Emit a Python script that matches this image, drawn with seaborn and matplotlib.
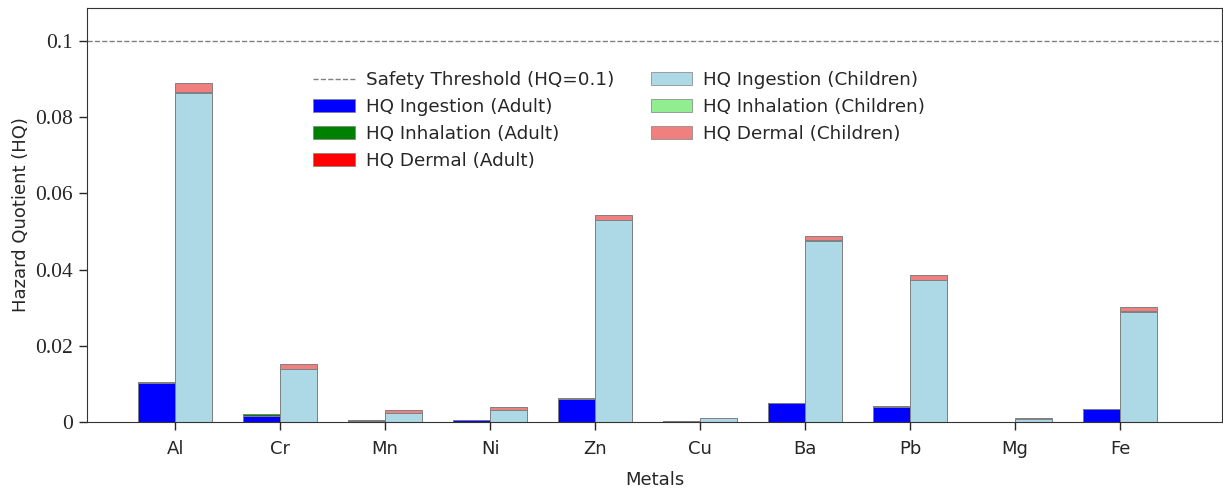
import numpy as np
import pandas as pd
import matplotlib
matplotlib.use("Agg")
import matplotlib.pyplot as plt
from matplotlib.patches import Patch
from matplotlib.lines import Line2D
from matplotlib.ticker import FuncFormatter
import seaborn as sns

metals = ["Al", "Cr", "Mn", "Ni", "Zn", "Cu", "Ba", "Pb", "Mg", "Fe"]
ing_adult = [0.0102, 0.0016, 0.0003, 0.0004, 0.0060, 0.0002, 0.0049, 0.0040, 0.0001, 0.0033]
inh_adult = [0.0001, 0.0005, 0.0001, 0.0001, 0.0001, 0.0000, 0.0001, 0.0001, 0.0000, 0.0001]
der_adult = [0.0001, 0.0001, 0.0000, 0.0000, 0.0001, 0.0000, 0.0001, 0.0001, 0.0000, 0.0001]
ing_child = [0.0864, 0.0138, 0.0023, 0.0031, 0.0530, 0.0010, 0.0476, 0.0373, 0.0009, 0.0290]
inh_child = [0.0001, 0.0001, 0.0000, 0.0000, 0.0001, 0.0000, 0.0001, 0.0001, 0.0000, 0.0001]
der_child = [0.0026, 0.0013, 0.0008, 0.0009, 0.0013, 0.0001, 0.0012, 0.0012, 0.0001, 0.0012]
threshold = 0.1

sns.set_style("ticks")
plt.rcParams["font.family"] = ["DejaVu Sans"]

fig = plt.figure(figsize=(12.23, 4.93), dpi=100)
ax = fig.add_axes([0.0711, 0.144, 0.928, 0.840])

groups = ["Adult", "Children"]
ia, ha, da = np.array(ing_adult), np.array(inh_adult), np.array(der_adult)
ic, hc, dc = np.array(ing_child), np.array(inh_child), np.array(der_child)

layers = [
    (ia + ha + da, ic + hc + dc, ["red", "lightcoral"]),
    (ia + ha, ic + hc, ["green", "lightgreen"]),
    (ia, ic, ["blue", "lightblue"]),
]
for adult_tot, child_tot, pal in layers:
    df = pd.DataFrame({
        "Metal": metals * 2,
        "Group": ["Adult"] * len(metals) + ["Children"] * len(metals),
        "HQ": np.concatenate([adult_tot, child_tot]),
    })
    sns.barplot(data=df, x="Metal", y="HQ", hue="Group", hue_order=groups,
                order=metals, palette=pal, width=0.7, dodge=True,
                saturation=1, errorbar=None, edgecolor="gray", linewidth=0.7,
                legend=False, ax=ax)

ax.axhline(threshold, color="gray", linestyle="--", linewidth=1.0)

ax.set_xlim(-0.84, 9.97)
ax.set_ylim(0, 0.1087)
ax.set_yticks([0, 0.02, 0.04, 0.06, 0.08, 0.1])
ax.yaxis.set_major_formatter(FuncFormatter(lambda v, p: "%g" % round(v, 4)))
for lbl in ax.get_yticklabels():
    lbl.set_fontfamily("Liberation Serif")
    lbl.set_fontsize(15.5)
ax.tick_params(axis="x", labelsize=13, length=6, width=1, pad=7)
ax.tick_params(axis="y", length=6, width=1, pad=4)
ax.set_xlabel("Metals", fontsize=13, labelpad=9)
ax.set_ylabel("Hazard Quotient (HQ)", fontsize=13, labelpad=4)
for s in ax.spines.values():
    s.set_visible(True)
    s.set_color("#333333")

handles = [
    Line2D([0], [0], color="gray", linestyle="--", linewidth=1.0),
    Patch(facecolor="blue", edgecolor="gray", linewidth=0.5),
    Patch(facecolor="green", edgecolor="gray", linewidth=0.5),
    Patch(facecolor="red", edgecolor="gray", linewidth=0.5),
    Patch(facecolor="lightblue", edgecolor="gray", linewidth=0.5),
    Patch(facecolor="lightgreen", edgecolor="gray", linewidth=0.5),
    Patch(facecolor="lightcoral", edgecolor="gray", linewidth=0.5),
]
labels = [
    "Safety Threshold (HQ=0.1)",
    "HQ Ingestion (Adult)",
    "HQ Inhalation (Adult)",
    "HQ Dermal (Adult)",
    "HQ Ingestion (Children)",
    "HQ Inhalation (Children)",
    "HQ Dermal (Children)",
]
ax.legend(handles, labels, ncol=2, frameon=False, fontsize=13.2,
          loc="upper left", bbox_to_anchor=(0.185, 0.887),
          columnspacing=2.0, handlelength=2.25, handletextpad=0.6,
          labelspacing=0.48)

fig.savefig("out.png", dpi=100)
